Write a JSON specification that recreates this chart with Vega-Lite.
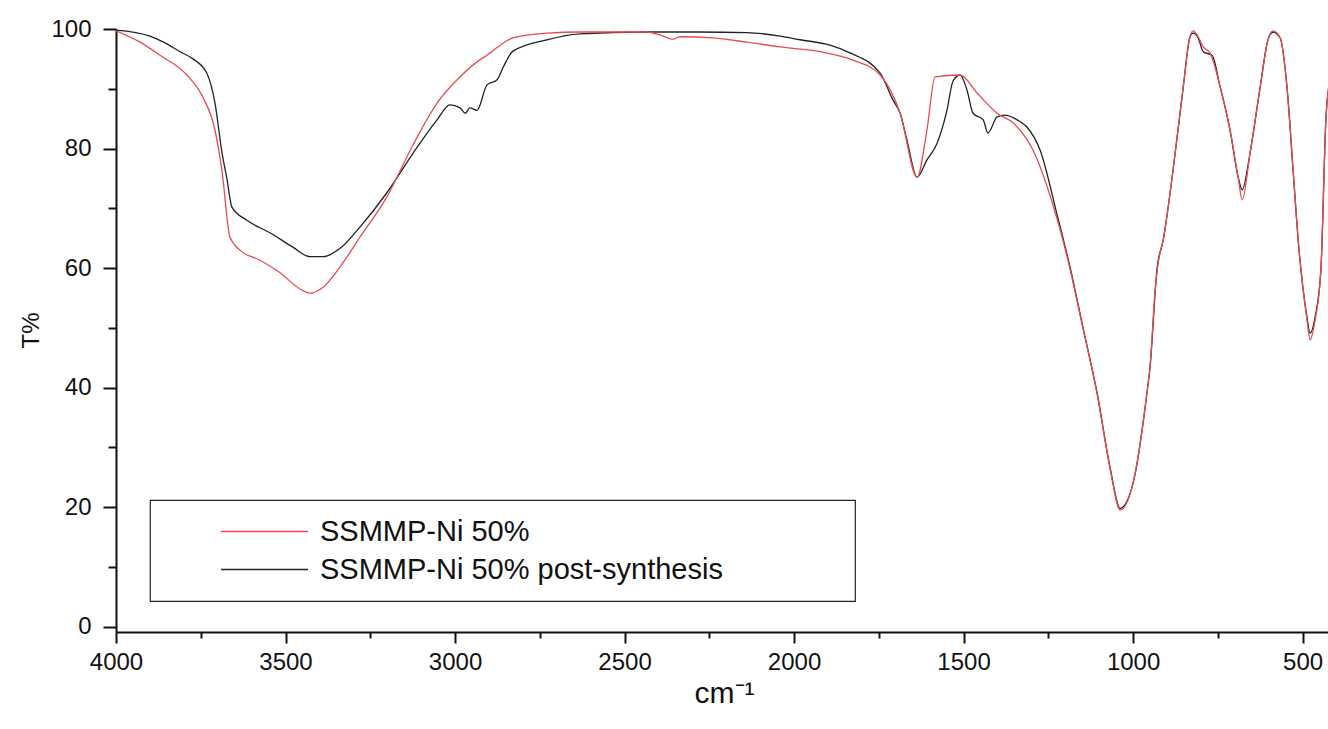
{
  "$schema": "https://vega.github.io/schema/vega-lite/v6.json",
  "autosize": {"type": "none"},
  "width": 1212,
  "height": 603,
  "padding": {"left": 116, "top": 29, "right": 0, "bottom": 97},
  "background": "white",
  "config": {
    "view": {"stroke": null},
    "font": "Liberation Sans",
    "axis": {
      "grid": false,
      "domainColor": "#111",
      "domainWidth": 2,
      "tickColor": "#111",
      "tickWidth": 2,
      "labelFont": "Liberation Sans",
      "labelFontSize": 24,
      "labelColor": "#111",
      "titleFont": "Liberation Sans",
      "titleFontWeight": "normal",
      "titleColor": "#111"
    },
    "legend": {"strokeWidth": 1.2}
  },
  "data": {
    "values": [
      {"wn": 4000, "T": 99.8, "s": "SSMMP-Ni 50% post-synthesis"},
      {"wn": 3900, "T": 98.8, "s": "SSMMP-Ni 50% post-synthesis"},
      {"wn": 3860, "T": 97.8, "s": "SSMMP-Ni 50% post-synthesis"},
      {"wn": 3811, "T": 96.2, "s": "SSMMP-Ni 50% post-synthesis"},
      {"wn": 3773, "T": 95.0, "s": "SSMMP-Ni 50% post-synthesis"},
      {"wn": 3732, "T": 92.6, "s": "SSMMP-Ni 50% post-synthesis"},
      {"wn": 3708, "T": 87.6, "s": "SSMMP-Ni 50% post-synthesis"},
      {"wn": 3687, "T": 79.2, "s": "SSMMP-Ni 50% post-synthesis"},
      {"wn": 3673, "T": 75.0, "s": "SSMMP-Ni 50% post-synthesis"},
      {"wn": 3658, "T": 70.2, "s": "SSMMP-Ni 50% post-synthesis"},
      {"wn": 3614, "T": 68.0, "s": "SSMMP-Ni 50% post-synthesis"},
      {"wn": 3546, "T": 65.9, "s": "SSMMP-Ni 50% post-synthesis"},
      {"wn": 3478, "T": 63.5, "s": "SSMMP-Ni 50% post-synthesis"},
      {"wn": 3428, "T": 61.9, "s": "SSMMP-Ni 50% post-synthesis"},
      {"wn": 3389, "T": 61.9, "s": "SSMMP-Ni 50% post-synthesis"},
      {"wn": 3339, "T": 63.3, "s": "SSMMP-Ni 50% post-synthesis"},
      {"wn": 3280, "T": 66.9, "s": "SSMMP-Ni 50% post-synthesis"},
      {"wn": 3201, "T": 72.6, "s": "SSMMP-Ni 50% post-synthesis"},
      {"wn": 3124, "T": 79.2, "s": "SSMMP-Ni 50% post-synthesis"},
      {"wn": 3053, "T": 84.8, "s": "SSMMP-Ni 50% post-synthesis"},
      {"wn": 3015, "T": 87.3, "s": "SSMMP-Ni 50% post-synthesis"},
      {"wn": 2985, "T": 86.8, "s": "SSMMP-Ni 50% post-synthesis"},
      {"wn": 2970, "T": 85.9, "s": "SSMMP-Ni 50% post-synthesis"},
      {"wn": 2956, "T": 86.8, "s": "SSMMP-Ni 50% post-synthesis"},
      {"wn": 2935, "T": 86.4, "s": "SSMMP-Ni 50% post-synthesis"},
      {"wn": 2906, "T": 90.6, "s": "SSMMP-Ni 50% post-synthesis"},
      {"wn": 2876, "T": 91.5, "s": "SSMMP-Ni 50% post-synthesis"},
      {"wn": 2858, "T": 93.6, "s": "SSMMP-Ni 50% post-synthesis"},
      {"wn": 2829, "T": 96.3, "s": "SSMMP-Ni 50% post-synthesis"},
      {"wn": 2729, "T": 98.2, "s": "SSMMP-Ni 50% post-synthesis"},
      {"wn": 2631, "T": 99.2, "s": "SSMMP-Ni 50% post-synthesis"},
      {"wn": 2434, "T": 99.5, "s": "SSMMP-Ni 50% post-synthesis"},
      {"wn": 2286, "T": 99.5, "s": "SSMMP-Ni 50% post-synthesis"},
      {"wn": 2139, "T": 99.4, "s": "SSMMP-Ni 50% post-synthesis"},
      {"wn": 2041, "T": 98.8, "s": "SSMMP-Ni 50% post-synthesis"},
      {"wn": 1982, "T": 98.2, "s": "SSMMP-Ni 50% post-synthesis"},
      {"wn": 1894, "T": 97.3, "s": "SSMMP-Ni 50% post-synthesis"},
      {"wn": 1835, "T": 96.0, "s": "SSMMP-Ni 50% post-synthesis"},
      {"wn": 1746, "T": 92.6, "s": "SSMMP-Ni 50% post-synthesis"},
      {"wn": 1708, "T": 88.1, "s": "SSMMP-Ni 50% post-synthesis"},
      {"wn": 1687, "T": 85.9, "s": "SSMMP-Ni 50% post-synthesis"},
      {"wn": 1667, "T": 81.4, "s": "SSMMP-Ni 50% post-synthesis"},
      {"wn": 1637, "T": 75.2, "s": "SSMMP-Ni 50% post-synthesis"},
      {"wn": 1608, "T": 78.1, "s": "SSMMP-Ni 50% post-synthesis"},
      {"wn": 1578, "T": 80.9, "s": "SSMMP-Ni 50% post-synthesis"},
      {"wn": 1549, "T": 86.4, "s": "SSMMP-Ni 50% post-synthesis"},
      {"wn": 1531, "T": 91.3, "s": "SSMMP-Ni 50% post-synthesis"},
      {"wn": 1510, "T": 92.3, "s": "SSMMP-Ni 50% post-synthesis"},
      {"wn": 1490, "T": 89.8, "s": "SSMMP-Ni 50% post-synthesis"},
      {"wn": 1472, "T": 85.9, "s": "SSMMP-Ni 50% post-synthesis"},
      {"wn": 1442, "T": 84.8, "s": "SSMMP-Ni 50% post-synthesis"},
      {"wn": 1428, "T": 82.6, "s": "SSMMP-Ni 50% post-synthesis"},
      {"wn": 1401, "T": 85.3, "s": "SSMMP-Ni 50% post-synthesis"},
      {"wn": 1378, "T": 85.6, "s": "SSMMP-Ni 50% post-synthesis"},
      {"wn": 1342, "T": 84.8, "s": "SSMMP-Ni 50% post-synthesis"},
      {"wn": 1313, "T": 83.6, "s": "SSMMP-Ni 50% post-synthesis"},
      {"wn": 1274, "T": 79.7, "s": "SSMMP-Ni 50% post-synthesis"},
      {"wn": 1224, "T": 68.9, "s": "SSMMP-Ni 50% post-synthesis"},
      {"wn": 1186, "T": 60.2, "s": "SSMMP-Ni 50% post-synthesis"},
      {"wn": 1148, "T": 50.1, "s": "SSMMP-Ni 50% post-synthesis"},
      {"wn": 1106, "T": 39.1, "s": "SSMMP-Ni 50% post-synthesis"},
      {"wn": 1068, "T": 26.7, "s": "SSMMP-Ni 50% post-synthesis"},
      {"wn": 1038, "T": 19.8, "s": "SSMMP-Ni 50% post-synthesis"},
      {"wn": 1000, "T": 24.0, "s": "SSMMP-Ni 50% post-synthesis"},
      {"wn": 959, "T": 39.1, "s": "SSMMP-Ni 50% post-synthesis"},
      {"wn": 950, "T": 43.4, "s": "SSMMP-Ni 50% post-synthesis"},
      {"wn": 929, "T": 60.0, "s": "SSMMP-Ni 50% post-synthesis"},
      {"wn": 911, "T": 64.7, "s": "SSMMP-Ni 50% post-synthesis"},
      {"wn": 882, "T": 76.4, "s": "SSMMP-Ni 50% post-synthesis"},
      {"wn": 852, "T": 90.3, "s": "SSMMP-Ni 50% post-synthesis"},
      {"wn": 832, "T": 98.7, "s": "SSMMP-Ni 50% post-synthesis"},
      {"wn": 823, "T": 99.3, "s": "SSMMP-Ni 50% post-synthesis"},
      {"wn": 808, "T": 98.5, "s": "SSMMP-Ni 50% post-synthesis"},
      {"wn": 793, "T": 96.2, "s": "SSMMP-Ni 50% post-synthesis"},
      {"wn": 767, "T": 95.6, "s": "SSMMP-Ni 50% post-synthesis"},
      {"wn": 743, "T": 90.3, "s": "SSMMP-Ni 50% post-synthesis"},
      {"wn": 714, "T": 83.1, "s": "SSMMP-Ni 50% post-synthesis"},
      {"wn": 690, "T": 75.2, "s": "SSMMP-Ni 50% post-synthesis"},
      {"wn": 678, "T": 73.1, "s": "SSMMP-Ni 50% post-synthesis"},
      {"wn": 655, "T": 79.2, "s": "SSMMP-Ni 50% post-synthesis"},
      {"wn": 625, "T": 90.3, "s": "SSMMP-Ni 50% post-synthesis"},
      {"wn": 602, "T": 98.2, "s": "SSMMP-Ni 50% post-synthesis"},
      {"wn": 587, "T": 99.5, "s": "SSMMP-Ni 50% post-synthesis"},
      {"wn": 566, "T": 98.5, "s": "SSMMP-Ni 50% post-synthesis"},
      {"wn": 546, "T": 90.3, "s": "SSMMP-Ni 50% post-synthesis"},
      {"wn": 528, "T": 76.4, "s": "SSMMP-Ni 50% post-synthesis"},
      {"wn": 513, "T": 64.7, "s": "SSMMP-Ni 50% post-synthesis"},
      {"wn": 487, "T": 51.8, "s": "SSMMP-Ni 50% post-synthesis"},
      {"wn": 478, "T": 49.1, "s": "SSMMP-Ni 50% post-synthesis"},
      {"wn": 463, "T": 51.8, "s": "SSMMP-Ni 50% post-synthesis"},
      {"wn": 446, "T": 59.7, "s": "SSMMP-Ni 50% post-synthesis"},
      {"wn": 431, "T": 85.1, "s": "SSMMP-Ni 50% post-synthesis"},
      {"wn": 419, "T": 91.5, "s": "SSMMP-Ni 50% post-synthesis"},
      {"wn": 4000, "T": 99.7, "s": "SSMMP-Ni 50%"},
      {"wn": 3929, "T": 97.8, "s": "SSMMP-Ni 50%"},
      {"wn": 3870, "T": 95.6, "s": "SSMMP-Ni 50%"},
      {"wn": 3791, "T": 92.3, "s": "SSMMP-Ni 50%"},
      {"wn": 3743, "T": 88.5, "s": "SSMMP-Ni 50%"},
      {"wn": 3708, "T": 83.1, "s": "SSMMP-Ni 50%"},
      {"wn": 3687, "T": 76.1, "s": "SSMMP-Ni 50%"},
      {"wn": 3664, "T": 65.2, "s": "SSMMP-Ni 50%"},
      {"wn": 3634, "T": 63.0, "s": "SSMMP-Ni 50%"},
      {"wn": 3575, "T": 61.3, "s": "SSMMP-Ni 50%"},
      {"wn": 3516, "T": 59.2, "s": "SSMMP-Ni 50%"},
      {"wn": 3457, "T": 56.5, "s": "SSMMP-Ni 50%"},
      {"wn": 3428, "T": 55.8, "s": "SSMMP-Ni 50%"},
      {"wn": 3389, "T": 56.8, "s": "SSMMP-Ni 50%"},
      {"wn": 3339, "T": 60.2, "s": "SSMMP-Ni 50%"},
      {"wn": 3280, "T": 65.2, "s": "SSMMP-Ni 50%"},
      {"wn": 3201, "T": 71.9, "s": "SSMMP-Ni 50%"},
      {"wn": 3124, "T": 80.6, "s": "SSMMP-Ni 50%"},
      {"wn": 3053, "T": 87.6, "s": "SSMMP-Ni 50%"},
      {"wn": 2985, "T": 92.0, "s": "SSMMP-Ni 50%"},
      {"wn": 2935, "T": 94.5, "s": "SSMMP-Ni 50%"},
      {"wn": 2906, "T": 95.6, "s": "SSMMP-Ni 50%"},
      {"wn": 2829, "T": 98.5, "s": "SSMMP-Ni 50%"},
      {"wn": 2729, "T": 99.3, "s": "SSMMP-Ni 50%"},
      {"wn": 2631, "T": 99.5, "s": "SSMMP-Ni 50%"},
      {"wn": 2434, "T": 99.5, "s": "SSMMP-Ni 50%"},
      {"wn": 2395, "T": 99.0, "s": "SSMMP-Ni 50%"},
      {"wn": 2357, "T": 98.3, "s": "SSMMP-Ni 50%"},
      {"wn": 2336, "T": 98.7, "s": "SSMMP-Ni 50%"},
      {"wn": 2239, "T": 98.5, "s": "SSMMP-Ni 50%"},
      {"wn": 2139, "T": 97.8, "s": "SSMMP-Ni 50%"},
      {"wn": 2041, "T": 97.0, "s": "SSMMP-Ni 50%"},
      {"wn": 1923, "T": 96.2, "s": "SSMMP-Ni 50%"},
      {"wn": 1826, "T": 94.8, "s": "SSMMP-Ni 50%"},
      {"wn": 1746, "T": 92.3, "s": "SSMMP-Ni 50%"},
      {"wn": 1687, "T": 85.9, "s": "SSMMP-Ni 50%"},
      {"wn": 1637, "T": 75.2, "s": "SSMMP-Ni 50%"},
      {"wn": 1608, "T": 83.1, "s": "SSMMP-Ni 50%"},
      {"wn": 1584, "T": 92.0, "s": "SSMMP-Ni 50%"},
      {"wn": 1510, "T": 92.3, "s": "SSMMP-Ni 50%"},
      {"wn": 1460, "T": 89.3, "s": "SSMMP-Ni 50%"},
      {"wn": 1401, "T": 85.9, "s": "SSMMP-Ni 50%"},
      {"wn": 1354, "T": 84.3, "s": "SSMMP-Ni 50%"},
      {"wn": 1295, "T": 79.7, "s": "SSMMP-Ni 50%"},
      {"wn": 1236, "T": 70.5, "s": "SSMMP-Ni 50%"},
      {"wn": 1195, "T": 62.0, "s": "SSMMP-Ni 50%"},
      {"wn": 1148, "T": 50.0, "s": "SSMMP-Ni 50%"},
      {"wn": 1106, "T": 38.9, "s": "SSMMP-Ni 50%"},
      {"wn": 1068, "T": 26.5, "s": "SSMMP-Ni 50%"},
      {"wn": 1038, "T": 19.5, "s": "SSMMP-Ni 50%"},
      {"wn": 1000, "T": 24.0, "s": "SSMMP-Ni 50%"},
      {"wn": 959, "T": 39.1, "s": "SSMMP-Ni 50%"},
      {"wn": 950, "T": 43.4, "s": "SSMMP-Ni 50%"},
      {"wn": 935, "T": 56.3, "s": "SSMMP-Ni 50%"},
      {"wn": 926, "T": 60.8, "s": "SSMMP-Ni 50%"},
      {"wn": 911, "T": 64.7, "s": "SSMMP-Ni 50%"},
      {"wn": 882, "T": 76.4, "s": "SSMMP-Ni 50%"},
      {"wn": 852, "T": 90.3, "s": "SSMMP-Ni 50%"},
      {"wn": 832, "T": 98.7, "s": "SSMMP-Ni 50%"},
      {"wn": 823, "T": 99.7, "s": "SSMMP-Ni 50%"},
      {"wn": 808, "T": 98.7, "s": "SSMMP-Ni 50%"},
      {"wn": 793, "T": 97.0, "s": "SSMMP-Ni 50%"},
      {"wn": 773, "T": 96.0, "s": "SSMMP-Ni 50%"},
      {"wn": 743, "T": 90.3, "s": "SSMMP-Ni 50%"},
      {"wn": 714, "T": 83.1, "s": "SSMMP-Ni 50%"},
      {"wn": 690, "T": 75.2, "s": "SSMMP-Ni 50%"},
      {"wn": 678, "T": 71.4, "s": "SSMMP-Ni 50%"},
      {"wn": 655, "T": 79.2, "s": "SSMMP-Ni 50%"},
      {"wn": 625, "T": 90.3, "s": "SSMMP-Ni 50%"},
      {"wn": 602, "T": 98.2, "s": "SSMMP-Ni 50%"},
      {"wn": 587, "T": 99.7, "s": "SSMMP-Ni 50%"},
      {"wn": 566, "T": 98.5, "s": "SSMMP-Ni 50%"},
      {"wn": 546, "T": 90.3, "s": "SSMMP-Ni 50%"},
      {"wn": 528, "T": 76.4, "s": "SSMMP-Ni 50%"},
      {"wn": 513, "T": 64.7, "s": "SSMMP-Ni 50%"},
      {"wn": 487, "T": 51.3, "s": "SSMMP-Ni 50%"},
      {"wn": 478, "T": 48.0, "s": "SSMMP-Ni 50%"},
      {"wn": 463, "T": 51.3, "s": "SSMMP-Ni 50%"},
      {"wn": 446, "T": 59.7, "s": "SSMMP-Ni 50%"},
      {"wn": 431, "T": 85.1, "s": "SSMMP-Ni 50%"},
      {"wn": 419, "T": 91.5, "s": "SSMMP-Ni 50%"}
    ]
  },
  "mark": {"type": "line", "clip": true, "strokeWidth": 1.3, "interpolate": "monotone"},
  "encoding": {
    "x": {
      "field": "wn",
      "type": "quantitative",
      "scale": {"domain": [4000, 425], "nice": false, "zero": false},
      "axis": {
        "values": [4000, 3750, 3500, 3250, 3000, 2750, 2500, 2250, 2000, 1750, 1500, 1250, 1000, 750, 500],
        "format": "d",
        "labelExpr": "datum.value % 500 === 0 ? datum.label : ''",
        "tickSize": {"condition": {"test": "datum.value % 500 === 0", "value": 11}, "value": 6},
        "labelPadding": 7,
        "labelFlush": false,
        "labelOverlap": false,
        "title": "cm⁻¹",
        "titleFontSize": 30,
        "titleX": 608,
        "titleY": 70,
        "titleAlign": "center",
        "titleBaseline": "alphabetic"
      }
    },
    "y": {
      "field": "T",
      "type": "quantitative",
      "scale": {"domain": [-0.9, 100], "nice": false, "zero": false},
      "axis": {
        "values": [0, 10, 20, 30, 40, 50, 60, 70, 80, 90, 100],
        "labelExpr": "datum.value % 20 === 0 ? datum.label : ''",
        "tickSize": {"condition": {"test": "datum.value % 20 === 0", "value": 13}, "value": 8},
        "labelPadding": 12,
        "labelFlush": false,
        "labelOverlap": false,
        "title": "T%",
        "titleFontSize": 24,
        "titleX": -78,
        "titleY": 301,
        "titleAlign": "center",
        "titleBaseline": "alphabetic"
      }
    },
    "color": {
      "field": "s",
      "type": "nominal",
      "scale": {
        "domain": ["SSMMP-Ni 50%", "SSMMP-Ni 50% post-synthesis"],
        "range": ["#e84a52", "#222222"]
      },
      "legend": {
        "title": null,
        "orient": "none",
        "legendX": 34,
        "legendY": 471,
        "direction": "vertical",
        "strokeColor": "#222",
        "fillColor": "white",
        "padding": 16,
        "cornerRadius": 0,
        "symbolType": "M-3,0H3M39.4,0L39.4,0",
        "symbolSize": 841,
        "symbolStrokeWidth": 1.3,
        "symbolOffset": 83,
        "rowPadding": 7,
        "labelOffset": 40,
        "labelFont": "Liberation Sans",
        "labelFontSize": 29,
        "labelColor": "#111",
        "labelLimit": 0
      }
    }
  }
}
